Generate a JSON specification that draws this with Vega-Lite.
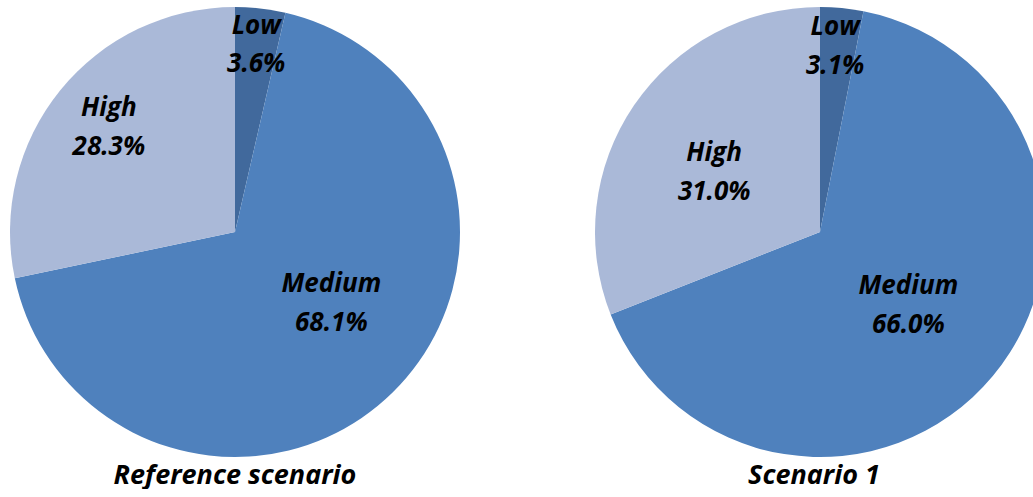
{
  "$schema": "https://vega.github.io/schema/vega-lite/v6.json",
  "padding": 0,
  "background": "white",
  "config": {"view": {"stroke": null}, "concat": {"spacing": 125}},
  "data": {"values": [
    {"scenario": "Reference scenario", "cat": "Low", "rank": 1, "share": 0.036},
    {"scenario": "Reference scenario", "cat": "Medium", "rank": 2, "share": 0.681},
    {"scenario": "Reference scenario", "cat": "High", "rank": 3, "share": 0.283},
    {"scenario": "Scenario 1", "cat": "Low", "rank": 1, "share": 0.031},
    {"scenario": "Scenario 1", "cat": "Medium", "rank": 2, "share": 0.660},
    {"scenario": "Scenario 1", "cat": "High", "rank": 3, "share": 0.310}
  ]},
  "hconcat": [
    {
      "width": 470, "height": 464,
      "title": {"text": "Reference scenario", "orient": "bottom", "offset": -1, "font": "Open Sans", "fontSize": 27, "fontStyle": "italic", "fontWeight": "bold", "color": "#000000"},
      "transform": [{"filter": "datum.scenario == 'Reference scenario'"}],
      "encoding": {
        "theta": {"field": "share", "type": "quantitative", "stack": true},
        "order": {"field": "rank", "type": "quantitative"}
      },
      "layer": [
        {"mark": {"type": "arc", "outerRadius": 225},
         "encoding": {"color": {"field": "cat", "type": "nominal", "legend": null,
           "scale": {"domain": ["Low", "Medium", "High"], "range": ["#41699C", "#4F81BD", "#AAB9D8"]}}}},
        {"mark": {"type": "text", "font": "Open Sans", "fontSize": 26, "fontStyle": "italic", "fontWeight": "bold", "color": "#000000",
           "dx": {"expr": "datum.cat == 'Medium' ? 13 : datum.cat == 'High' ? -5 : 0"},
           "dy": {"expr": "datum.cat == 'Medium' ? -33 : datum.cat == 'High' ? -26 : -19"},
           "radius": {"expr": "datum.cat == 'Low' ? 188 : datum.cat == 'Medium' ? 119 : 156"}},
         "encoding": {"detail": {"field": "cat"}, "text": {"field": "cat"}}},
        {"mark": {"type": "text", "font": "Open Sans", "fontSize": 26, "fontStyle": "italic", "fontWeight": "bold", "color": "#000000",
           "dx": {"expr": "datum.cat == 'Medium' ? 13 : datum.cat == 'High' ? -5 : 0"},
           "dy": {"expr": "datum.cat == 'Medium' ? 6 : datum.cat == 'High' ? 13 : 19"},
           "radius": {"expr": "datum.cat == 'Low' ? 188 : datum.cat == 'Medium' ? 119 : 156"}},
         "encoding": {"detail": {"field": "cat"}, "text": {"field": "share", "type": "quantitative", "format": ".1%"}}}
      ]
    },
    {
      "width": 438, "height": 464,
      "title": {"text": "Scenario 1", "orient": "bottom", "offset": -1, "font": "Open Sans", "fontSize": 27, "fontStyle": "italic", "fontWeight": "bold", "color": "#000000"},
      "transform": [{"filter": "datum.scenario == 'Scenario 1'"}],
      "encoding": {
        "theta": {"field": "share", "type": "quantitative", "stack": true},
        "order": {"field": "rank", "type": "quantitative"}
      },
      "layer": [
        {"mark": {"type": "arc", "outerRadius": 225, "xOffset": 6, "clip": true},
         "encoding": {"color": {"field": "cat", "type": "nominal", "legend": null,
           "scale": {"domain": ["Low", "Medium", "High"], "range": ["#41699C", "#4F81BD", "#AAB9D8"]}}}},
        {"mark": {"type": "text", "font": "Open Sans", "fontSize": 26, "fontStyle": "italic", "fontWeight": "bold", "color": "#000000", "xOffset": 6,
           "dx": {"expr": "datum.cat == 'Low' ? -3 : 0"},
           "dy": {"expr": "datum.cat == 'High' ? -7 : -20"},
           "radius": {"expr": "datum.cat == 'Low' ? 186 : datum.cat == 'Medium' ? 115 : 128"}},
         "encoding": {"detail": {"field": "cat"}, "text": {"field": "cat"}}},
        {"mark": {"type": "text", "font": "Open Sans", "fontSize": 26, "fontStyle": "italic", "fontWeight": "bold", "color": "#000000", "xOffset": 6,
           "dx": {"expr": "datum.cat == 'Low' ? -3 : 0"},
           "dy": {"expr": "datum.cat == 'High' ? 32 : 19"},
           "radius": {"expr": "datum.cat == 'Low' ? 186 : datum.cat == 'Medium' ? 115 : 128"}},
         "encoding": {"detail": {"field": "cat"}, "text": {"field": "share", "type": "quantitative", "format": ".1%"}}}
      ]
    }
  ]
}
